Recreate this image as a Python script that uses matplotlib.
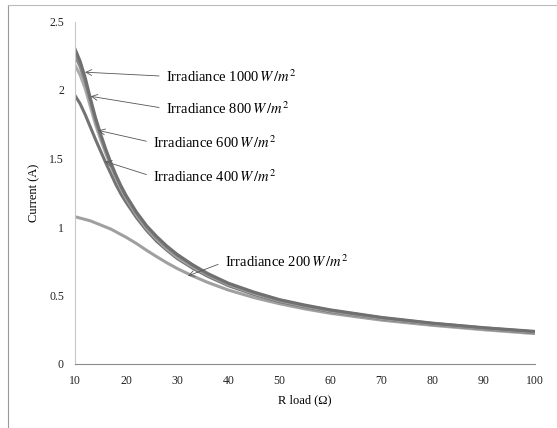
import matplotlib
matplotlib.use("Agg")
import matplotlib.pyplot as plt
from matplotlib.lines import Line2D

plt.rcParams['font.family'] = ['Liberation Serif', 'DejaVu Serif']
plt.rcParams['mathtext.fontset'] = 'stix'

# load resistance (ohm)
r_load = [10, 11, 12, 13, 14, 15, 16, 17, 18, 19, 20, 22, 24, 26, 28, 30,
          33, 36, 40, 45, 50, 55, 60, 70, 80, 90, 100]

# current (A) for each irradiance level
i_1000 = [2.30, 2.21, 2.09, 1.94, 1.80, 1.68, 1.57, 1.47, 1.38, 1.30, 1.23, 1.11, 1.01, 0.93,
          0.86, 0.80, 0.725, 0.66, 0.59, 0.525, 0.47, 0.43, 0.395, 0.34, 0.298, 0.265, 0.238]
i_800 = [2.25, 2.17, 2.06, 1.92, 1.78, 1.665, 1.56, 1.46, 1.37, 1.29, 1.22, 1.10, 1.00, 0.92,
         0.85, 0.79, 0.718, 0.655, 0.585, 0.52, 0.466, 0.426, 0.391, 0.337, 0.296, 0.263, 0.235]
i_600 = [2.18, 2.11, 2.01, 1.88, 1.75, 1.64, 1.54, 1.445, 1.36, 1.28, 1.21, 1.09, 0.99, 0.91,
         0.84, 0.78, 0.71, 0.65, 0.58, 0.515, 0.462, 0.422, 0.387, 0.333, 0.293, 0.26, 0.232]
i_400 = [1.96, 1.90, 1.82, 1.73, 1.64, 1.555, 1.47, 1.39, 1.31, 1.24, 1.18, 1.07, 0.975, 0.895,
         0.83, 0.77, 0.70, 0.64, 0.572, 0.508, 0.456, 0.417, 0.383, 0.33, 0.29, 0.258, 0.229]
i_200 = [1.075, 1.065, 1.055, 1.045, 1.03, 1.015, 1.00, 0.985, 0.965, 0.945, 0.925, 0.88, 0.83,
         0.783, 0.738, 0.697, 0.643, 0.595, 0.54, 0.485, 0.44, 0.402, 0.37, 0.32, 0.282, 0.25, 0.222]

x_ticks = [10, 20, 30, 40, 50, 60, 70, 80, 90, 100]
y_ticks = [0, 0.5, 1, 1.5, 2, 2.5]
y_ticklabels = ['0', '0.5', '1', '1.5', '2', '2.5']

labels = ['Irradiance 1000$\\,W\\,/m^2$', 'Irradiance 800$\\,W\\,/m^2$',
          'Irradiance 600$\\,W\\,/m^2$', 'Irradiance 400$\\,W\\,/m^2$',
          'Irradiance 200$\\,W\\,/m^2$']
# arrow tips and text anchors (data coords)
tips = [(11.96, 2.13), (13.07, 1.954), (14.56, 1.705), (15.87, 1.479), (32.1, 0.643)]
texts = [(27.8, 2.10), (27.8, 1.864), (25.3, 1.615), (25.3, 1.367), (39.3, 0.746)]

W, H = 557, 428
fig = plt.figure(figsize=(W / 100, H / 100), dpi=100)
ax = fig.add_axes([75 / W, 1 - 364 / H, (535 - 75) / W, (364 - 21.5) / H])

# plotting the curves
ax.plot(r_load, i_200, color='#a0a0a0', lw=2.2)
ax.plot(r_load, i_400, color='#737373', lw=2.2)
ax.plot(r_load, i_600, color='#ababab', lw=2.2)
ax.plot(r_load, i_800, color='#8a8a8a', lw=2.2)
ax.plot(r_load, i_1000, color='#707070', lw=2.2)

for lab, tip, txt in zip(labels, tips, texts):
    ax.annotate(lab, xy=tip, xytext=txt, ha='left', va='center', fontsize=10.5,
                arrowprops=dict(arrowstyle='->', color='#555555', lw=0.6,
                                shrinkA=3, shrinkB=0, relpos=(0, 0.5)))

ax.set_xlim(10, 100)
ax.set_ylim(0, 2.5)
ax.set_xticks(x_ticks)
ax.set_yticks(y_ticks)
ax.set_yticklabels(y_ticklabels)
ax.tick_params(length=0, labelsize=8.5, colors='#222222', pad=8)
for s in ['top', 'right']:
    ax.spines[s].set_visible(False)
ax.spines['left'].set_color('#c8c8c8')
ax.spines['bottom'].set_color('#8a8a8a')
ax.set_xlabel('R load (Ω)', fontsize=9, labelpad=5)
ax.set_ylabel('Current (A)', fontsize=9, labelpad=6)

# outer frame pieces
fig.add_artist(Line2D([8 / W, 8 / W], [0, 1 - 5 / H], color='#9a9a9a', lw=0.8))
fig.add_artist(Line2D([8 / W, 1], [1 - 5 / H, 1 - 5 / H], color='#bbbbbb', lw=0.8))

fig.savefig('out.png', dpi=100)
